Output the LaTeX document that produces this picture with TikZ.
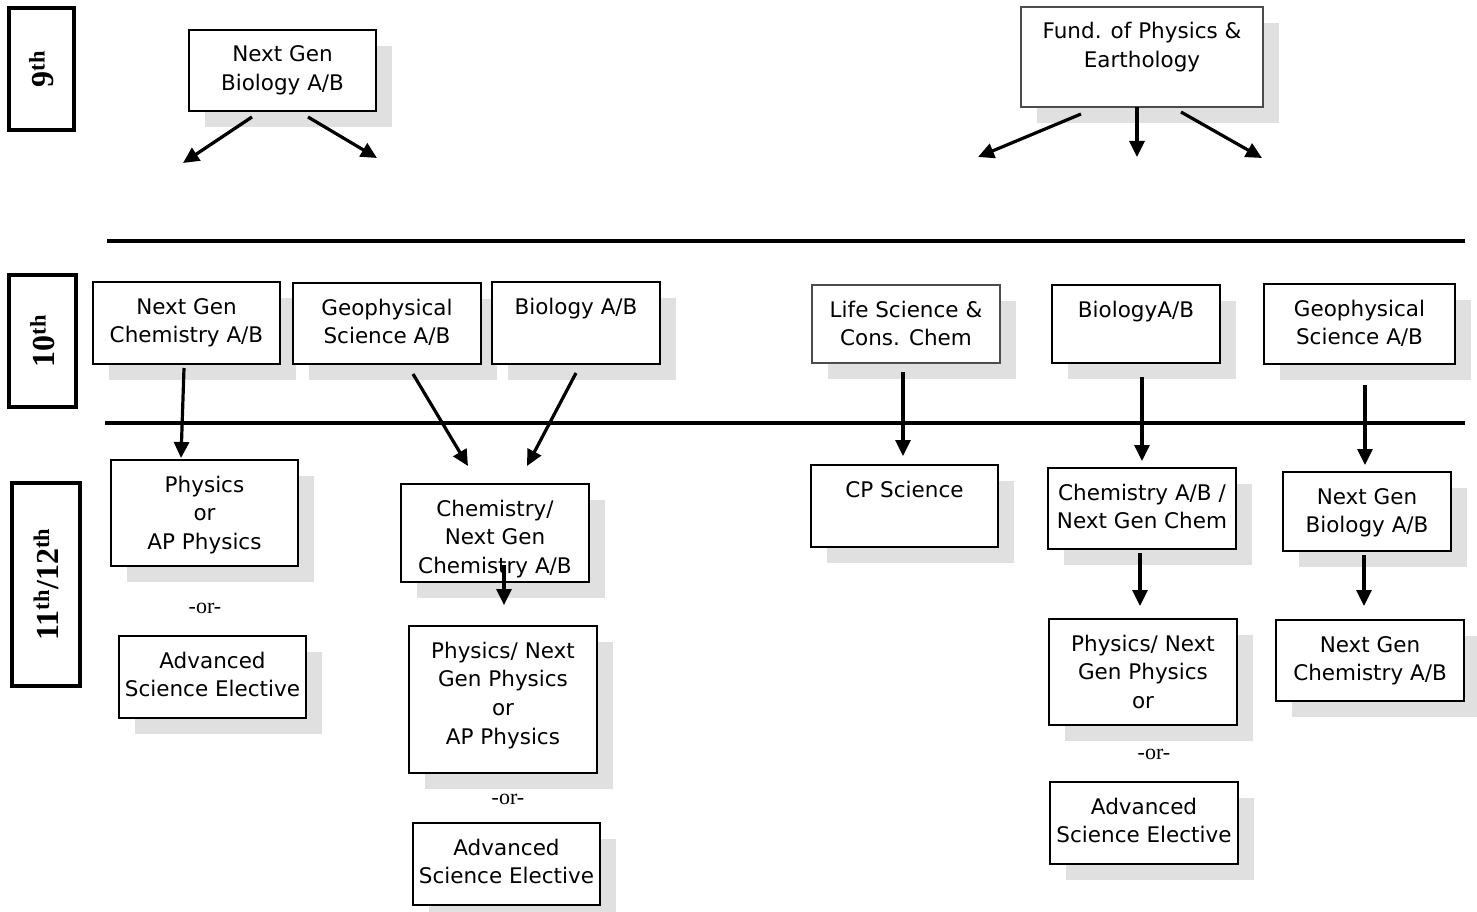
\documentclass[tikz,border=0pt]{standalone}
\usepackage{fontspec}
\setmainfont{DejaVu Sans}
\newfontfamily\gradeserif{Liberation Serif}
\usetikzlibrary{arrows.meta,calc,shadows}

\definecolor{shadowgray}{RGB}{224,224,224}

% course box: name, left, top, width, height, text (top aligned)
\newcommand{\coursebox}[7][]{%
  \node[course,#1] (#2) at (#3,#4)
    {\parbox[c][#6pt][t]{#5pt}{\centering\rule{0pt}{32pt}#7}};}

\tikzset{
  course/.style={draw, line width=2pt, fill=white, inner sep=0pt,
    outer sep=0pt, anchor=north west,
    font=\fontsize{21.5}{28.7}\selectfont,
    general shadow={fill=shadowgray, shadow xshift=16pt, shadow yshift=-16pt}},
  faint/.style={draw=black!70, line width=1.2pt},
  gradebox/.style={draw, line width=4pt, rotate=90, inner sep=0pt,
    font=\gradeserif\bfseries\fontsize{32}{34}\selectfont},
  ortext/.style={font=\gradeserif\fontsize{22}{24}\selectfont, inner sep=0pt},
  arr/.style={line width=3.2pt, -{Triangle[length=16pt,width=15pt]}},
  divider/.style={line width=4pt},
}

\begin{document}
\begin{tikzpicture}[x=1pt,y=-1pt]
\useasboundingbox (0,0) rectangle (1477,912);

% grade labels
\node[gradebox, minimum width=122pt, minimum height=65pt] (g9) at (41.5,69) {9\textsuperscript{th}};
\node[gradebox, minimum width=132pt, minimum height=67pt] (g10) at (42.5,341) {10\textsuperscript{th}};
\node[gradebox, minimum width=203pt, minimum height=68pt] (g11) at (46,584.5) {11\textsuperscript{th}/12\textsuperscript{th}};

% grade dividers
\coordinate (d1a) at (107,241); \coordinate (d1b) at (1465,241);
\coordinate (d2a) at (105,423); \coordinate (d2b) at (1465,423);
\draw[divider] (d1a) -- (d1b);
\draw[divider] (d2a) -- (d2b);

% 9th grade
\coursebox{ngbio9}{189}{30}{187}{81}{Next Gen\\Biology A/B}
\coursebox[faint]{fund}{1021}{7}{242}{100}{Fund. of Physics \&\\Earthology}

% 10th grade
\coursebox{ngchem10}{93}{282}{187}{82}{Next Gen\\Chemistry A/B}
\coursebox{geo10}{293}{283}{188}{81}{Geophysical\\Science A/B}
\coursebox{bio10}{492}{282}{168}{82}{Biology A/B}
\coursebox[faint]{lifesci}{812}{285}{188}{78}{Life Science \&\\Cons. Chem}
\coursebox{bioR}{1052}{285}{168}{78}{BiologyA/B}
\coursebox{geoR}{1264}{284}{191}{80}{Geophysical\\Science A/B}

% 11th/12th grade
\coursebox{physL}{111}{460}{187}{106}{Physics\\or\\AP Physics}
\coursebox{advL}{119}{636}{187}{82}{Advanced\\Science Elective}
\coursebox{chemM}{401}{484}{188}{98}{Chemistry/\\Next Gen\\Chemistry A/B}
\coursebox{physM}{409}{626}{188}{147}{Physics/ Next\\Gen Physics\\or\\AP Physics}
\coursebox{advM}{413}{823}{187}{82}{Advanced\\Science Elective}
\coursebox{cp}{811}{465}{187}{82}{CP Science}
\coursebox{chemR}{1048}{468}{188}{81}{Chemistry A/B /\\Next Gen Chem}
\coursebox{physR}{1049}{619}{188}{106}{Physics/ Next\\Gen Physics\\or}
\coursebox{advR}{1050}{782}{188}{82}{Advanced\\Science Elective}
\coursebox{ngbioR}{1283}{472}{168}{79}{Next Gen\\Biology A/B}
\coursebox{ngchemR}{1276}{620}{188}{81}{Next Gen\\Chemistry A/B}

\node[ortext] (or1) at (205,608) {-or-};
\node[ortext] (or2) at (508,799) {-or-};
\node[ortext] (or3) at (1154,754) {-or-};

% arrows out of 9th grade
\coordinate (t9a) at (183,163);
\coordinate (t9b) at (377,158);
\coordinate (t9c) at (978,157);
\coordinate (t9d) at (1137,157);
\coordinate (t9e) at (1262,158);
\draw[arr] ($(ngbio9.south)+(-30.5,6)$) -- (t9a);
\draw[arr] ($(ngbio9.south)+(25.5,6)$) -- (t9b);
\draw[arr] ($(fund.south)+(-61,7)$) -- (t9c);
\draw[arr] ($(fund.south)+(-5,0)$) -- (t9d);
\draw[arr] ($(fund.south)+(39,5)$) -- (t9e);

% 10th to 11th/12th
\draw[arr] ($(ngchem10.south)+(-2.5,4)$) -- ($(physL.north)+(-23.5,-2)$);
\draw[arr] ($(geo10.south)+(26,10)$) -- ($(chemM.north)+(-27,-18)$);
\draw[arr] ($(bio10.south)+(0,9)$) -- ($(chemM.north)+(32,-18)$);
\draw[arr] ($(lifesci.south)+(-3,9)$) -- ($(cp.north)+(-1.5,-9)$);
\draw[arr] ($(bioR.south)+(6,14)$) -- ($(chemR.north)+(0,-7)$);
\draw[arr] ($(geoR.south)+(5.5,21)$) -- ($(ngbioR.north)+(-2,-7)$);

% within 11th/12th
\draw[arr] ($(chemM.south)+(9,-17)$) -- ($(physM.north)+(1,-21)$);
\draw[arr] ($(chemR.south)+(-2,4)$) -- ($(physR.north)+(-3,-13)$);
\draw[arr] ($(ngbioR.south)+(-3,4)$) -- ($(ngchemR.north)+(-6,-14)$);
\end{tikzpicture}
\end{document}
